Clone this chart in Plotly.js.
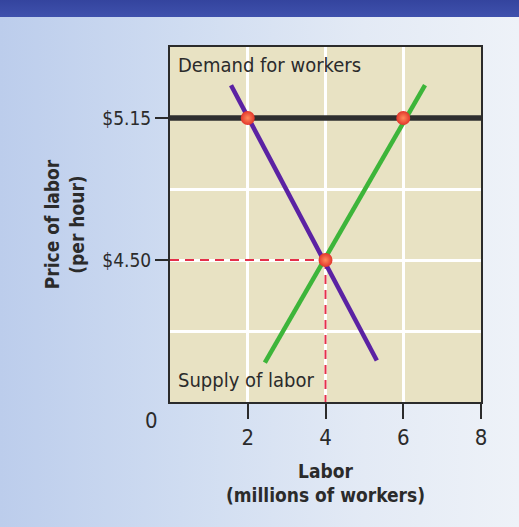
<!DOCTYPE html>
<html>
<head>
<meta charset="utf-8">
<script src="https://cdn.plot.ly/plotly-3.0.1.min.js"></script>
<style>
  html, body { margin: 0; padding: 0; }
  body {
    width: 519px; height: 527px; overflow: hidden; position: relative;
    background: linear-gradient(to right, #bccdec 0%, #cfdcf1 35%, #e3eaf5 70%, #eef2f8 100%);
  }
  #band { position: absolute; left: 0; top: 0; width: 519px; height: 17px;
          background: linear-gradient(to bottom, #34449e, #3f51ad); }
  #chart { position: absolute; left: 0; top: 0; }
</style>
</head>
<body>
<div id="band"></div>
<div id="chart"></div>
<script>
// ---- data ----
const demandX = [1.57, 5.32];
const demandY = [5.30, 4.04];
const supplyX = [2.44, 6.56];
const supplyY = [4.03, 5.30];
const minWageX = [0, 8];
const minWageY = [5.15, 5.15];
const pointX = [2, 6, 4];
const pointY = [5.15, 5.15, 4.50];
const eqDashHX = [0, 4];
const eqDashHY = [4.50, 4.50];
const eqDashVX = [4, 4];
const eqDashVY = [4.50, 3.85];
const xTickVals = [2, 4, 6, 8];
const xTickText = ['2', '4', '6', '8'];
const yTickVals = [4.50, 5.15];
const yTickText = ['$4.50', '$5.15'];
const yGridVals = [4.175, 4.50, 4.825, 5.15];
const xRange = [0, 8];
const yRange = [3.85, 5.475];

const FONT = '"DejaVu Sans Condensed", "DejaVu Sans", sans-serif';
const INK = '#2b2b2b';

const traces = [
  { x: minWageX, y: minWageY, mode: 'lines', line: { color: '#2e2e2e', width: 5.5 }, hoverinfo: 'skip' },
  { x: eqDashHX, y: eqDashHY, mode: 'lines', line: { color: '#e4304a', width: 2, dash: '9px,6px' }, hoverinfo: 'skip' },
  { x: eqDashVX, y: eqDashVY, mode: 'lines', line: { color: '#e4304a', width: 2, dash: '9px,6px' }, hoverinfo: 'skip' },
  { x: supplyX, y: supplyY, mode: 'lines', line: { color: '#3db53a', width: 4.5 }, hoverinfo: 'skip' },
  { x: demandX, y: demandY, mode: 'lines', line: { color: '#5b22a3', width: 4.5 }, hoverinfo: 'skip' },
  { x: pointX, y: pointY, mode: 'markers',
    marker: { color: '#e2352b', size: 14, line: { width: 0 },
              gradient: { type: 'radial', color: '#ff8a5a' } },
    cliponaxis: false, hoverinfo: 'skip' }
];

const layout = {
  width: 519, height: 527,
  margin: { l: 170, r: 38, t: 47, b: 125 },
  paper_bgcolor: 'rgba(0,0,0,0)',
  plot_bgcolor: '#e8e2c3',
  showlegend: false,
  font: { family: FONT, color: INK },
  xaxis: {
    range: xRange, fixedrange: true,
    tickmode: 'array', tickvals: xTickVals, ticktext: xTickText,
    ticks: 'outside', ticklen: 15, tickwidth: 2, tickcolor: INK,
    ticklabelstandoff: 0,
    tickfont: { family: FONT, size: 22, color: INK },
    showgrid: true, gridcolor: '#ffffff', gridwidth: 3,
    showline: true, linecolor: INK, linewidth: 2, mirror: true,
    zeroline: false,
    title: { text: '<b>Labor</b><br><b>(millions of workers)</b>',
             font: { family: FONT, size: 19, color: INK }, standoff: 15 }
  },
  yaxis: {
    range: yRange, fixedrange: true,
    tickmode: 'array', tickvals: yTickVals, ticktext: yTickText,
    ticks: 'outside', ticklen: 13, tickwidth: 1.5, tickcolor: INK,
    ticklabelstandoff: 0,
    tickfont: { family: FONT, size: 19, color: INK },
    showgrid: true, gridcolor: '#ffffff', gridwidth: 3,
    minor: { tickmode: 'array', tickvals: yGridVals, ticks: '', showgrid: true,
             gridcolor: '#ffffff', gridwidth: 3 },
    showline: true, linecolor: INK, linewidth: 2, mirror: true,
    zeroline: false,
    title: { text: '<b>Price of labor</b><br><b>(per hour)</b>',
             font: { family: FONT, size: 19, color: INK }, standoff: 13 }
  },
  annotations: [
    { text: 'Demand for workers', xref: 'paper', yref: 'paper', x: 0.019, y: 0.949,
      xanchor: 'left', yanchor: 'middle', showarrow: false,
      font: { family: FONT, size: 20, color: INK } },
    { text: 'Supply of labor', xref: 'paper', yref: 'paper', x: 0.019, y: 0.062,
      xanchor: 'left', yanchor: 'middle', showarrow: false,
      font: { family: FONT, size: 20, color: INK } },
    { text: '0', xref: 'paper', yref: 'paper', x: -0.058, y: -0.051,
      xanchor: 'center', yanchor: 'middle', showarrow: false,
      font: { family: FONT, size: 22, color: INK } }
  ]
};

Plotly.newPlot('chart', traces, layout, { displayModeBar: false, staticPlot: true });
</script>
</body>
</html>
